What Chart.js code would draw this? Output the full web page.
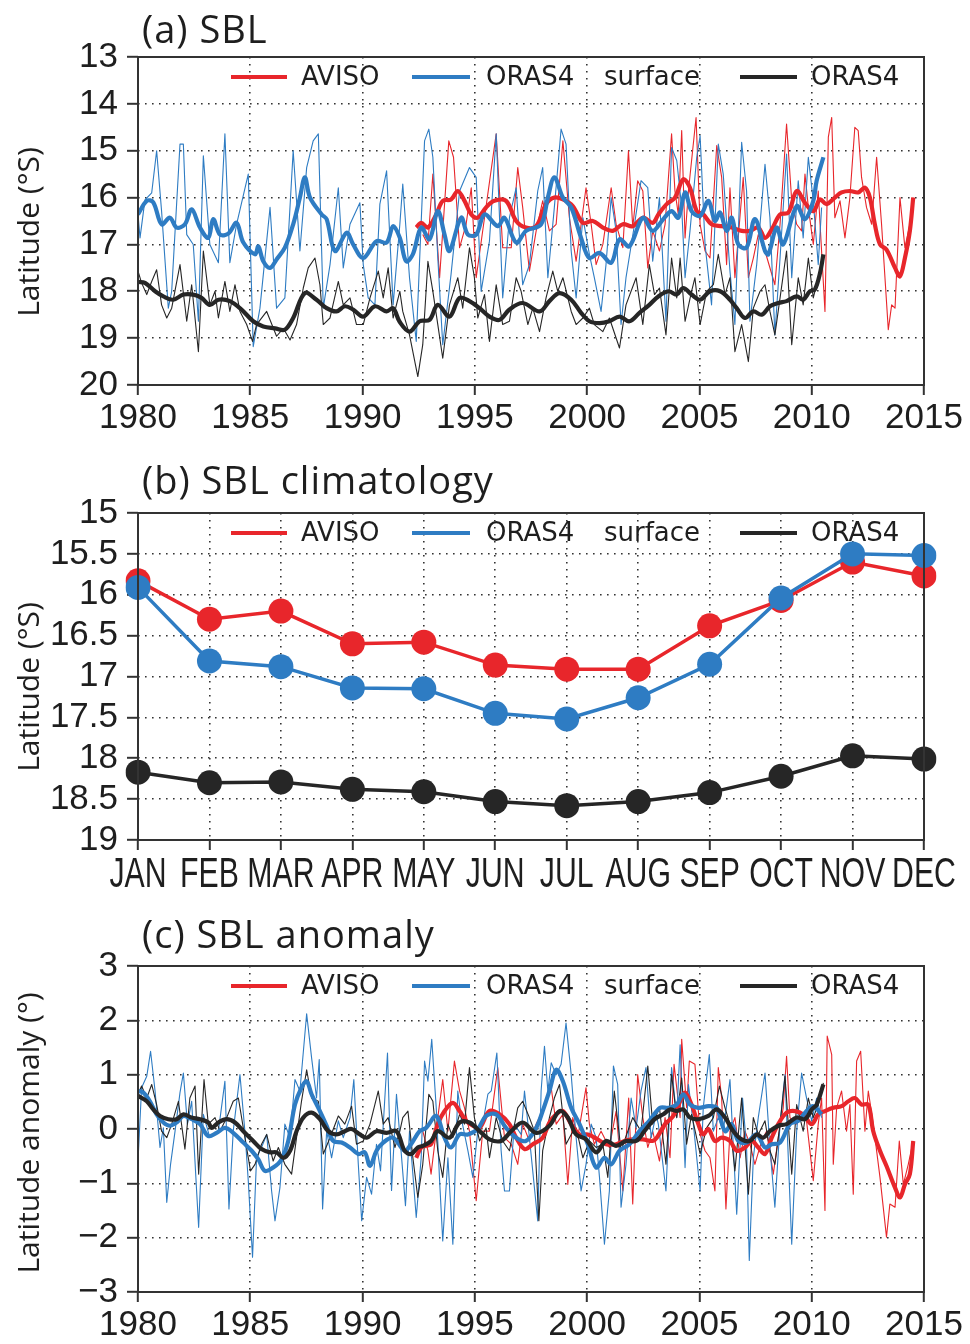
<!DOCTYPE html>
<html>
<head>
<meta charset="utf-8">
<script src="https://cdn.jsdelivr.net/npm/chart.js@4.4.1/dist/chart.umd.min.js"></script>
<style>
  html, body { margin: 0; padding: 0; background: #fff; }
  #wrap { position: relative; width: 970px; height: 1344px; }
  canvas { position: absolute; left: 0; }
</style>
</head>
<body>
<div id="wrap">
  <canvas id="sbl" width="970" height="450" style="top:0px"></canvas>
  <canvas id="clim" width="970" height="450" style="top:450px"></canvas>
  <canvas id="anom" width="970" height="444" style="top:900px"></canvas>
</div>
<script>
// ---- axis ticks ----
const yearTicks = [1980, 1985, 1990, 1995, 2000, 2005, 2010, 2015];
const latTicks = [13, 14, 15, 16, 17, 18, 19, 20];
const climTicks = [15, 15.5, 16, 16.5, 17, 17.5, 18, 18.5, 19];
const anomTicks = [-3, -2, -1, 0, 1, 2, 3];
const months = ['JAN', 'FEB', 'MAR', 'APR', 'MAY', 'JUN', 'JUL', 'AUG', 'SEP', 'OCT', 'NOV', 'DEC'];

// ---- (a) SBL latitude, [year, °S] ----
const avisoLat = [[1992.68,16.79],[1992.91,17.0],[1993.13,15.5],[1993.43,17.71],[1993.84,14.79],[1994.05,15.14],[1994.32,17.07],[1994.61,16.57],[1994.84,15.79],[1995.06,17.71],[1995.43,16.43],[1995.95,14.64],[1996.24,17.07],[1996.62,17.07],[1996.91,15.36],[1997.13,16.21],[1997.43,17.57],[1997.73,16.71],[1998.02,16.07],[1998.32,16.71],[1998.62,16.57],[1998.92,14.79],[1999.21,16.43],[1999.51,17.36],[1999.95,15.79],[2000.18,16.57],[2000.40,17.43],[2000.70,17.0],[2001.07,15.79],[2001.29,16.57],[2001.59,17.07],[2001.84,15.0],[2002.03,16.64],[2002.25,15.64],[2002.48,15.86],[2002.70,17.5],[2002.92,16.71],[2003.22,17.14],[2003.47,16.57],[2003.76,14.64],[2003.91,15.86],[2004.06,16.36],[2004.21,14.57],[2004.36,16.86],[2004.51,15.86],[2004.85,14.29],[2005.03,16.57],[2005.25,17.14],[2005.47,17.29],[2005.77,14.89],[2005.99,15.57],[2006.21,17.43],[2006.36,15.79],[2006.58,17.71],[2006.95,15.57],[2007.18,17.71],[2007.40,17.29],[2007.62,16.79],[2007.92,17.14],[2008.36,17.86],[2008.59,16.57],[2008.88,14.43],[2009.11,16.07],[2009.33,16.57],[2009.55,16.71],[2009.70,15.5],[2009.85,16.21],[2010.07,17.0],[2010.29,15.86],[2010.59,18.43],[2010.74,14.71],[2010.89,14.29],[2011.03,16.43],[2011.26,16.07],[2011.48,16.86],[2011.70,16.0],[2011.92,14.5],[2012.07,14.57],[2012.22,15.57],[2012.44,16.21],[2012.67,16.57],[2012.89,15.14],[2013.11,16.57],[2013.41,18.82],[2013.56,18.29],[2013.71,18.36],[2013.93,16.0],[2014.15,17.07],[2014.37,16.57],[2014.52,16.0]];
const avisoLatSmooth = [[1992.39,16.64],[1992.61,16.54],[1992.91,16.64],[1993.28,16.36],[1993.57,16.07],[1993.94,16.04],[1994.24,15.86],[1994.54,16.07],[1994.84,16.36],[1995.13,16.43],[1995.50,16.21],[1995.87,16.07],[1996.39,16.07],[1996.84,16.50],[1997.28,16.64],[1997.73,16.61],[1998.17,16.14],[1998.54,16.00],[1998.92,16.04],[1999.36,16.18],[1999.81,16.54],[2000.25,16.50],[2000.70,16.64],[2001.14,16.71],[2001.59,16.57],[2002.03,16.61],[2002.48,16.43],[2002.92,16.54],[2003.17,16.36],[2003.54,16.14],[2003.91,16.00],[2004.28,15.61],[2004.58,15.79],[2004.88,16.29],[2005.17,16.36],[2005.54,16.57],[2005.99,16.61],[2006.44,16.64],[2006.88,16.71],[2007.25,16.71],[2007.62,16.64],[2007.92,16.86],[2008.22,16.68],[2008.59,16.36],[2008.96,16.32],[2009.33,15.86],[2009.70,16.11],[2010.07,16.29],[2010.37,16.04],[2010.66,16.14],[2011.03,16.00],[2011.33,15.89],[2011.70,15.86],[2012.07,15.89],[2012.37,15.79],[2012.59,16.00],[2012.81,16.57],[2013.04,17.00],[2013.33,17.11],[2013.71,17.50],[2013.93,17.68],[2014.15,17.29],[2014.37,16.71],[2014.52,16.00]];
const surfLat = [[1980.00,16.36],[1980.09,16.86],[1980.31,16.05],[1980.61,15.9],[1980.83,15.0],[1981.05,16.29],[1981.35,18.36],[1981.50,18.0],[1981.87,14.86],[1982.02,14.86],[1982.17,16.79],[1982.46,17.0],[1982.69,18.64],[1982.91,15.11],[1983.20,17.0],[1983.58,17.39],[1983.87,14.64],[1984.09,17.39],[1984.39,16.57],[1984.91,15.5],[1985.13,19.18],[1985.43,18.36],[1985.88,16.21],[1986.17,18.36],[1986.54,18.14],[1986.91,15.0],[1987.21,17.14],[1987.51,15.36],[1987.80,14.79],[1988.03,14.64],[1988.25,18.36],[1988.55,17.43],[1988.92,15.79],[1989.14,17.5],[1989.44,16.57],[1989.88,16.11],[1990.03,17.43],[1990.25,18.14],[1990.55,18.29],[1990.77,16.14],[1991.07,15.43],[1991.36,18.29],[1991.66,16.57],[1991.79,15.71],[1992.09,17.71],[1992.39,19.07],[1992.76,14.79],[1992.95,14.54],[1993.13,15.14],[1993.35,17.29],[1993.57,19.14],[1993.94,17.64],[1994.32,15.86],[1994.76,15.36],[1995.06,15.57],[1995.28,18.0],[1995.65,16.93],[1995.95,14.64],[1996.24,18.14],[1996.54,16.43],[1996.84,15.79],[1997.13,17.86],[1997.43,17.43],[1997.80,15.86],[1998.02,15.36],[1998.25,17.71],[1998.54,16.21],[1998.84,14.54],[1999.06,14.86],[1999.29,17.14],[1999.51,18.14],[1999.81,16.43],[2000.10,17.21],[2000.32,17.71],[2000.62,18.43],[2000.84,17.43],[2001.07,16.0],[2001.29,16.71],[2001.51,18.71],[2001.73,17.71],[2002.11,16.57],[2002.40,15.64],[2002.70,15.79],[2002.92,17.36],[2003.22,16.0],[2003.51,18.64],[2003.76,14.93],[2003.99,15.21],[2004.21,16.21],[2004.36,17.71],[2004.58,16.71],[2004.88,15.14],[2005.03,14.68],[2005.25,17.0],[2005.54,18.29],[2005.84,14.86],[2006.06,15.5],[2006.36,17.57],[2006.58,18.71],[2006.88,14.82],[2007.10,15.86],[2007.25,18.64],[2007.55,17.43],[2007.92,15.29],[2008.14,16.43],[2008.36,18.93],[2008.59,17.29],[2008.88,15.07],[2009.11,17.71],[2009.40,15.64],[2009.62,16.86],[2009.85,15.14],[2010.07,16.07],[2010.29,17.43],[2010.44,16.21]];
const surfLatSmooth = [[1980.00,16.36],[1980.39,16.07],[1980.68,16.10],[1981.05,16.57],[1981.42,16.43],[1981.72,16.64],[1982.09,16.57],[1982.39,16.25],[1982.76,16.64],[1983.13,16.86],[1983.35,16.46],[1983.65,16.79],[1984.02,16.77],[1984.39,16.54],[1984.69,16.96],[1985.21,17.21],[1985.36,17.04],[1985.58,17.36],[1985.88,17.50],[1986.17,17.32],[1986.54,17.07],[1986.91,16.57],[1987.21,16.00],[1987.43,15.57],[1987.66,16.00],[1988.18,16.36],[1988.40,16.46],[1988.77,17.14],[1989.29,16.75],[1989.58,17.00],[1990.03,17.29],[1990.62,16.93],[1991.07,16.96],[1991.36,16.61],[1991.66,16.86],[1991.94,17.36],[1992.24,17.21],[1992.61,16.64],[1992.98,16.89],[1993.35,16.29],[1993.65,16.79],[1993.87,17.14],[1994.39,16.43],[1994.69,16.79],[1995.06,16.79],[1995.43,16.36],[1996.02,16.61],[1996.32,16.43],[1996.84,16.96],[1997.28,16.71],[1997.95,16.57],[1998.25,16.00],[1998.54,15.57],[1998.92,16.00],[1999.29,16.21],[1999.73,16.86],[2000.10,17.29],[2000.55,17.18],[2001.07,17.39],[2001.44,16.89],[2001.88,17.04],[2002.48,16.43],[2002.92,16.71],[2003.39,16.46],[2003.76,16.29],[2004.06,16.43],[2004.36,15.89],[2004.65,16.29],[2005.03,16.39],[2005.40,16.07],[2005.69,16.50],[2005.92,16.32],[2006.21,16.71],[2006.44,16.43],[2006.73,17.00],[2007.10,17.07],[2007.47,16.46],[2007.92,17.14],[2008.07,17.21],[2008.44,16.64],[2008.73,17.00],[2009.33,16.18],[2009.70,16.46],[2010.07,16.07],[2010.22,15.64],[2010.52,15.14]];
const oras4Lat = [[1980.00,17.57],[1980.16,17.82],[1980.39,18.07],[1980.61,17.79],[1980.83,17.54],[1981.05,18.29],[1981.28,18.57],[1981.50,18.36],[1981.87,17.43],[1982.17,18.64],[1982.39,17.86],[1982.69,19.29],[1982.91,17.14],[1983.20,18.29],[1983.43,18.0],[1983.58,18.57],[1983.87,17.79],[1984.09,18.43],[1984.32,17.86],[1984.54,18.43],[1984.84,18.71],[1985.10,19.07],[1985.28,18.71],[1985.73,18.43],[1986.17,18.96],[1986.47,18.79],[1986.77,19.04],[1987.06,18.71],[1987.36,17.93],[1987.58,17.5],[1987.88,17.29],[1988.10,17.86],[1988.25,18.71],[1988.55,18.57],[1988.92,17.79],[1989.14,18.29],[1989.44,18.14],[1989.73,18.71],[1990.03,18.71],[1990.33,18.14],[1990.70,17.57],[1990.92,18.14],[1991.14,17.5],[1991.36,18.57],[1991.66,18.0],[1991.79,18.43],[1992.09,18.93],[1992.46,19.82],[1992.68,19.14],[1992.91,17.36],[1993.13,18.0],[1993.35,18.71],[1993.57,19.43],[1993.87,18.29],[1994.24,17.71],[1994.46,18.36],[1994.76,17.07],[1994.98,17.71],[1995.13,18.57],[1995.43,18.07],[1995.65,19.07],[1995.95,17.86],[1996.24,18.71],[1996.54,18.64],[1996.84,17.71],[1997.06,18.0],[1997.36,18.71],[1997.58,18.36],[1997.88,18.86],[1998.17,18.14],[1998.47,17.57],[1998.69,18.0],[1998.92,17.71],[1999.29,18.43],[1999.51,18.71],[1999.81,18.57],[2000.10,18.36],[2000.32,18.71],[2000.70,18.86],[2000.99,18.57],[2001.44,19.21],[2001.73,18.29],[2002.18,17.71],[2002.48,18.71],[2002.77,17.43],[2003.00,18.07],[2003.22,17.93],[2003.51,18.93],[2003.76,17.29],[2003.99,18.14],[2004.14,17.29],[2004.36,18.64],[2004.65,18.0],[2004.80,17.71],[2005.03,18.71],[2005.32,18.0],[2005.62,17.86],[2005.84,17.21],[2006.14,18.07],[2006.36,17.71],[2006.58,19.29],[2006.88,18.71],[2007.18,19.5],[2007.40,18.36],[2007.70,18.0],[2007.92,17.86],[2008.14,18.43],[2008.36,18.93],[2008.59,18.14],[2008.88,17.14],[2009.11,19.14],[2009.40,17.71],[2009.62,18.29],[2009.85,17.29],[2010.07,18.14],[2010.29,17.71]];
const oras4LatSmooth = [[1980.00,17.80],[1980.31,17.82],[1980.76,18.00],[1981.13,18.11],[1981.57,18.18],[1982.02,18.07],[1982.46,18.07],[1982.83,18.14],[1983.20,18.29],[1983.58,18.18],[1984.09,18.21],[1984.61,18.39],[1985.13,18.64],[1985.58,18.75],[1986.10,18.79],[1986.54,18.82],[1986.91,18.57],[1987.43,18.04],[1987.95,18.18],[1988.40,18.36],[1988.84,18.43],[1989.21,18.32],[1989.58,18.39],[1990.03,18.54],[1990.55,18.32],[1991.07,18.43],[1991.36,18.36],[1991.65,18.65],[1992.09,18.86],[1992.54,18.64],[1992.98,18.61],[1993.35,18.29],[1993.87,18.54],[1994.32,18.14],[1994.76,18.21],[1995.21,18.36],[1995.65,18.54],[1996.10,18.61],[1996.54,18.39],[1997.13,18.25],[1997.88,18.43],[1998.32,18.21],[1998.77,18.04],[1999.29,18.18],[1999.73,18.46],[2000.10,18.64],[2000.55,18.68],[2000.99,18.64],[2001.44,18.54],[2001.88,18.64],[2002.33,18.46],[2002.77,18.29],[2003.17,18.11],[2003.62,18.00],[2003.99,18.07],[2004.28,17.93],[2004.65,18.07],[2005.03,18.18],[2005.47,18.00],[2005.92,18.00],[2006.36,18.18],[2006.66,18.36],[2007.03,18.57],[2007.40,18.43],[2007.77,18.50],[2008.14,18.32],[2008.51,18.25],[2008.88,18.21],[2009.33,18.11],[2009.62,18.18],[2009.92,18.00],[2010.14,17.96],[2010.37,17.61],[2010.52,17.21]];

// ---- (b) monthly climatology, °S ----
const avisoClim = [15.83, 16.30, 16.20, 16.60, 16.58, 16.86, 16.91, 16.91, 16.38, 16.07, 15.60, 15.77];
const surfClim = [15.91, 16.81, 16.88, 17.14, 17.15, 17.45, 17.52, 17.26, 16.85, 16.04, 15.50, 15.52];
const oras4Clim = [18.17, 18.30, 18.29, 18.38, 18.41, 18.53, 18.58, 18.53, 18.42, 18.22, 17.97, 18.01];

// ---- (c) anomaly, [year, degrees] ----
const avisoAnom = [[1992.68,-0.04],[1992.91,-0.40],[1993.05,-0.83],[1993.35,0.21],[1993.57,0.91],[1993.80,-0.04],[1994.09,1.25],[1994.32,0.70],[1994.54,0.39],[1994.76,-0.04],[1995.06,-1.32],[1995.35,-0.04],[1995.65,-0.04],[1996.02,1.13],[1996.32,-0.16],[1996.62,-0.28],[1996.91,-0.65],[1997.13,0.09],[1997.43,-0.22],[1997.73,0.09],[1998.02,0.33],[1998.40,0.76],[1998.62,0.09],[1998.92,0.27],[1999.14,-1.02],[1999.36,0.21],[1999.58,-0.16],[1999.95,0.76],[2000.10,0.09],[2000.32,-0.28],[2000.62,-0.04],[2000.99,-0.34],[2001.29,0.33],[2001.59,-1.14],[2001.85,0.57],[2002.03,-1.38],[2002.25,1.0],[2002.48,0.21],[2002.70,-0.34],[2002.92,-0.04],[2003.22,-0.59],[2003.47,0.21],[2003.69,-0.53],[2003.87,1.19],[2004.14,0.21],[2004.21,1.65],[2004.43,0.39],[2004.55,1.25],[2004.80,1.19],[2005.03,-0.10],[2005.25,-0.40],[2005.47,-0.53],[2005.69,-1.14],[2005.84,1.13],[2005.99,0.57],[2006.18,-1.47],[2006.36,-0.04],[2006.58,0.21],[2006.81,-0.53],[2007.03,-0.04],[2007.25,-0.28],[2007.47,-0.65],[2007.77,-0.22],[2007.99,-0.04],[2008.29,-0.83],[2008.51,-0.16],[2008.73,0.39],[2008.88,1.34],[2009.03,0.21],[2009.33,0.09],[2009.55,0.21],[2009.77,0.15],[2010.07,-0.95],[2010.29,0.09],[2010.44,0.57],[2010.59,-1.50],[2010.69,1.71],[2010.89,1.37],[2010.96,-0.65],[2011.11,0.39],[2011.33,0.70],[2011.55,-0.04],[2011.70,0.45],[2011.85,-1.20],[2012.00,1.25],[2012.18,1.43],[2012.37,-0.04],[2012.52,0.70],[2012.74,0.09],[2013.04,-0.89],[2013.33,-1.99],[2013.48,-1.38],[2013.71,-1.44],[2013.90,-0.22],[2014.08,-1.02],[2014.30,-0.65],[2014.52,-0.22]];
const avisoAnomSmooth = [[1992.39,-0.53],[1992.61,-0.34],[1992.83,-0.31],[1993.05,-0.28],[1993.35,0.09],[1993.65,0.33],[1994.02,0.48],[1994.32,0.33],[1994.61,0.15],[1994.91,0.06],[1995.21,0.02],[1995.65,0.33],[1996.10,0.27],[1996.54,0.09],[1996.84,-0.16],[1997.21,-0.37],[1997.58,-0.28],[1998.02,-0.16],[1998.32,0.12],[1998.62,0.27],[1998.92,0.33],[1999.29,0.09],[1999.66,-0.10],[2000.03,-0.10],[2000.47,-0.19],[2000.84,-0.28],[2001.29,-0.28],[2001.66,-0.22],[2002.03,-0.19],[2002.48,-0.19],[2002.92,-0.22],[2003.10,-0.16],[2003.47,0.09],[2003.84,0.24],[2004.14,0.51],[2004.36,0.67],[2004.65,0.45],[2004.95,0.09],[2005.17,-0.10],[2005.40,0.00],[2005.69,-0.22],[2005.99,-0.16],[2006.36,-0.22],[2006.66,-0.40],[2007.03,-0.34],[2007.33,-0.22],[2007.62,-0.34],[2007.92,-0.46],[2008.22,-0.16],[2008.51,0.09],[2008.88,0.30],[2009.25,0.33],[2009.62,0.27],[2010.00,0.09],[2010.29,0.27],[2010.59,0.33],[2010.96,0.39],[2011.33,0.42],[2011.63,0.51],[2011.92,0.57],[2012.22,0.45],[2012.52,0.45],[2012.74,-0.04],[2013.04,-0.40],[2013.33,-0.68],[2013.71,-1.08],[2013.93,-1.26],[2014.15,-1.02],[2014.37,-0.83],[2014.52,-0.22]];
const surfAnom = [[1980.00,-0.59],[1980.16,0.76],[1980.39,0.97],[1980.56,1.43],[1980.76,0.70],[1980.98,-0.34],[1981.13,0.02],[1981.28,-1.35],[1981.45,-0.65],[1981.65,-0.04],[1981.87,0.67],[1982.02,1.03],[1982.20,0.09],[1982.39,0.51],[1982.70,-1.81],[1982.91,0.27],[1983.20,-0.16],[1983.58,-0.04],[1983.87,0.88],[1984.05,-1.47],[1984.24,-0.04],[1984.54,1.0],[1984.76,-0.04],[1984.91,-0.95],[1985.10,-2.36],[1985.28,-0.53],[1985.50,-0.34],[1985.73,-0.10],[1985.95,-1.14],[1986.10,-1.69],[1986.32,-1.08],[1986.54,0.09],[1986.77,-0.16],[1986.99,0.91],[1987.21,0.70],[1987.51,2.12],[1987.73,1.31],[1987.95,0.57],[1988.07,1.28],[1988.22,-1.47],[1988.40,-0.04],[1988.62,-0.53],[1988.92,0.15],[1989.14,-0.16],[1989.44,0.21],[1989.61,0.91],[1989.81,-0.65],[1989.96,-1.69],[1990.18,-0.89],[1990.40,-1.20],[1990.62,-0.28],[1990.80,-0.77],[1991.11,1.40],[1991.29,-1.13],[1991.51,0.64],[1991.91,-1.41],[1992.09,-0.04],[1992.39,-1.63],[1992.61,-0.53],[1992.76,1.25],[1992.91,0.88],[1993.08,1.65],[1993.28,0.39],[1993.43,-0.95],[1993.57,-2.06],[1993.80,-0.53],[1994.02,-2.12],[1994.24,0.70],[1994.39,0.21],[1994.69,-0.40],[1994.91,-0.89],[1995.13,-0.04],[1995.35,0.09],[1995.58,0.64],[1995.73,0.70],[1995.98,1.40],[1996.17,-0.40],[1996.32,-1.14],[1996.54,-1.14],[1996.76,0.09],[1997.06,-0.10],[1997.21,0.70],[1997.43,-0.16],[1997.80,-1.69],[1997.95,0.70],[1998.10,1.52],[1998.25,0.70],[1998.40,1.22],[1998.62,1.0],[1998.84,1.19],[1999.06,1.95],[1999.29,1.0],[1999.51,-0.16],[1999.73,-1.14],[1999.95,-0.65],[2000.18,0.09],[2000.40,-0.16],[2000.55,-0.89],[2000.77,-2.12],[2000.99,-1.14],[2001.17,1.16],[2001.36,0.82],[2001.51,-1.44],[2001.73,-0.65],[2001.96,0.57],[2002.18,0.02],[2002.40,0.70],[2002.62,1.13],[2002.85,-0.16],[2003.07,0.27],[2003.17,0.09],[2003.51,-1.14],[2003.76,1.13],[2003.99,0.21],[2004.14,1.55],[2004.36,-0.71],[2004.51,0.82],[2004.73,0.09],[2005.03,-1.14],[2005.17,0.39],[2005.44,1.37],[2005.62,-0.04],[2005.84,0.21],[2006.06,-0.04],[2006.36,0.91],[2006.66,-1.57],[2006.92,0.57],[2007.10,-0.34],[2007.22,-2.42],[2007.40,-0.53],[2007.62,0.21],[2007.92,1.03],[2008.14,-0.34],[2008.36,-1.44],[2008.59,0.09],[2008.81,1.0],[2009.11,-2.12],[2009.33,-0.04],[2009.55,1.03],[2009.77,0.57],[2010.00,0.15],[2010.22,0.57],[2010.44,0.21]];
const surfAnomSmooth = [[1980.00,0.70],[1980.24,0.67],[1980.53,0.51],[1980.83,0.27],[1981.13,0.12],[1981.42,0.06],[1981.72,0.12],[1982.02,0.24],[1982.39,0.18],[1982.76,0.09],[1983.13,-0.13],[1983.50,-0.07],[1983.87,0.02],[1984.24,-0.07],[1984.69,-0.25],[1985.06,-0.40],[1985.36,-0.56],[1985.65,-0.77],[1986.02,-0.71],[1986.39,-0.56],[1986.69,-0.22],[1986.99,0.45],[1987.28,0.76],[1987.51,0.88],[1987.73,0.64],[1988.10,0.33],[1988.40,0.06],[1988.69,-0.22],[1989.07,-0.25],[1989.44,-0.34],[1989.81,-0.46],[1990.10,-0.43],[1990.33,-0.68],[1990.62,-0.40],[1990.92,-0.25],[1991.36,-0.16],[1991.87,-0.40],[1992.16,-0.28],[1992.54,-0.04],[1992.83,0.02],[1993.28,0.24],[1993.65,-0.16],[1993.94,-0.34],[1994.32,-0.10],[1994.69,-0.10],[1995.13,0.00],[1995.50,0.24],[1995.95,0.27],[1996.39,0.02],[1996.84,-0.16],[1997.28,-0.22],[1997.73,0.02],[1998.02,0.33],[1998.32,0.70],[1998.62,1.09],[1998.92,0.88],[1999.29,0.39],[1999.66,0.09],[2000.03,-0.28],[2000.40,-0.71],[2000.77,-0.53],[2001.07,-0.65],[2001.44,-0.40],[2001.88,-0.28],[2002.33,-0.04],[2002.77,0.15],[2003.25,0.39],[2003.62,0.39],[2003.99,0.45],[2004.28,0.64],[2004.58,0.45],[2004.95,0.39],[2005.40,0.42],[2005.77,0.39],[2006.14,-0.04],[2006.44,0.09],[2006.73,-0.22],[2007.10,-0.25],[2007.55,-0.10],[2007.92,-0.34],[2008.22,-0.28],[2008.59,-0.25],[2009.03,0.09],[2009.40,0.15],[2009.77,0.33],[2010.07,0.42],[2010.44,0.27]];
const oras4Anom = [[1980.00,0.64],[1980.16,0.79],[1980.39,0.57],[1980.61,0.82],[1980.83,0.45],[1981.05,-0.04],[1981.28,-0.16],[1981.50,0.09],[1981.80,0.51],[1982.09,-0.37],[1982.31,0.57],[1982.54,0.79],[1982.70,-0.83],[1982.94,0.91],[1983.13,0.09],[1983.43,0.21],[1983.65,-0.04],[1983.95,0.21],[1984.24,0.51],[1984.47,0.57],[1984.76,-0.16],[1985.01,-0.77],[1985.21,-0.65],[1985.50,-0.28],[1985.73,-0.10],[1986.02,-0.59],[1986.25,-0.34],[1986.54,-0.65],[1986.84,-0.83],[1987.06,-0.16],[1987.28,0.51],[1987.51,1.09],[1987.73,0.57],[1988.03,0.51],[1988.25,-0.46],[1988.55,-0.16],[1988.92,0.24],[1989.21,0.09],[1989.51,0.42],[1989.73,-0.28],[1990.03,-0.22],[1990.33,0.09],[1990.70,0.70],[1990.92,0.09],[1991.14,0.21],[1991.44,-0.34],[1991.66,-0.04],[1991.79,0.21],[1992.02,0.33],[1992.24,-0.53],[1992.46,-1.26],[1992.68,-0.65],[1992.95,0.64],[1993.13,0.51],[1993.35,-0.40],[1993.57,-0.89],[1993.80,0.09],[1994.02,-0.16],[1994.32,0.27],[1994.54,0.09],[1994.76,1.13],[1994.98,0.21],[1995.21,-0.22],[1995.50,0.02],[1995.65,-0.53],[1995.95,0.21],[1996.24,-0.22],[1996.54,-0.40],[1996.91,0.39],[1997.13,0.51],[1997.43,0.21],[1997.65,-0.04],[1997.85,-1.69],[1998.02,-0.40],[1998.32,0.21],[1998.54,0.57],[1998.77,0.82],[1999.06,-0.28],[1999.29,-0.10],[1999.51,0.02],[1999.81,-0.53],[2000.10,-0.22],[2000.40,-0.34],[2000.70,-0.28],[2000.92,-0.89],[2001.21,0.70],[2001.51,-0.40],[2001.81,-0.04],[2002.03,0.21],[2002.40,-0.04],[2002.70,1.16],[2002.92,0.09],[2003.22,0.39],[2003.51,-0.65],[2003.76,1.0],[2003.99,0.21],[2004.21,0.94],[2004.43,-0.28],[2004.65,0.27],[2005.03,-0.46],[2005.32,0.02],[2005.62,0.21],[2005.89,0.79],[2006.14,0.39],[2006.36,0.09],[2006.58,-0.77],[2006.88,0.57],[2007.18,-1.20],[2007.40,0.21],[2007.62,-0.10],[2007.92,0.15],[2008.14,-0.40],[2008.36,-0.65],[2008.59,0.09],[2008.81,0.97],[2009.11,-0.83],[2009.33,0.45],[2009.62,-0.04],[2009.85,0.57],[2010.07,0.21],[2010.29,0.45],[2010.52,0.85]];
const oras4AnomSmooth = [[1980.00,0.61],[1980.39,0.51],[1980.68,0.36],[1980.98,0.24],[1981.35,0.18],[1981.72,0.18],[1982.02,0.27],[1982.39,0.21],[1982.76,0.18],[1983.13,0.12],[1983.28,0.02],[1983.58,0.12],[1983.95,0.18],[1984.32,0.12],[1984.69,-0.04],[1985.13,-0.22],[1985.50,-0.37],[1985.88,-0.43],[1986.17,-0.43],[1986.47,-0.53],[1986.77,-0.40],[1987.06,-0.04],[1987.36,0.21],[1987.73,0.30],[1988.10,0.18],[1988.47,-0.04],[1988.84,-0.10],[1989.21,-0.04],[1989.51,0.00],[1989.88,-0.10],[1990.18,-0.16],[1990.62,-0.04],[1991.07,-0.07],[1991.51,-0.04],[1991.87,-0.40],[1992.16,-0.46],[1992.46,-0.34],[1992.68,-0.31],[1993.05,-0.22],[1993.35,-0.04],[1993.87,-0.16],[1994.32,0.12],[1994.76,0.12],[1995.21,-0.04],[1995.65,-0.19],[1996.17,-0.22],[1996.62,-0.04],[1997.13,0.12],[1997.73,-0.07],[1998.32,0.06],[1998.77,0.33],[1999.14,0.21],[1999.51,-0.10],[1999.95,-0.19],[2000.40,-0.43],[2000.84,-0.22],[2001.29,-0.31],[2001.73,-0.22],[2002.18,-0.22],[2002.55,-0.04],[2002.92,0.15],[2003.10,0.21],[2003.39,0.27],[2003.69,0.36],[2003.99,0.33],[2004.28,0.36],[2004.58,0.21],[2004.95,0.18],[2005.40,0.24],[2005.77,0.36],[2006.14,0.21],[2006.51,-0.04],[2006.88,-0.19],[2007.25,-0.22],[2007.55,-0.10],[2007.84,-0.16],[2008.14,-0.04],[2008.51,0.06],[2008.88,0.09],[2009.33,0.21],[2009.70,0.18],[2010.00,0.36],[2010.22,0.45],[2010.52,0.82]];

// ---- styling ----
const RED = '#e8262b';
const BLUE = '#2e7cc3';
const BLACK = '#262626';
const INK = '#1e1e1e';
const tickFont = { family: '"Liberation Sans", Arial, sans-serif', size: 35 };

const legendEntries = [
  { color: RED, x0: 93, x1: 149, texts: [['AVISO', 163]] },
  { color: BLUE, x0: 274, x1: 332, texts: [['ORAS4', 348], ['surface', 466]] },
  { color: BLACK, x0: 602, x1: 659, texts: [['ORAS4', 673]] }
];

// frame, panel title, rotated axis title, the in-plot legend and
// (for the month axis) narrow category labels
const panelDecor = {
  id: 'panelDecor',
  afterDraw(chart, args, opts) {
    const { ctx, chartArea: a } = chart;
    ctx.save();
    ctx.strokeStyle = '#333';
    ctx.lineWidth = 2;
    ctx.strokeRect(a.left, a.top, a.right - a.left, a.bottom - a.top);

    ctx.fillStyle = INK;
    ctx.textAlign = 'left';
    ctx.textBaseline = 'alphabetic';
    ctx.font = '38px "Open Sans", "Noto Sans", sans-serif';
    ctx.letterSpacing = '1px';
    ctx.fillText(opts.title, a.left + 4, opts.titleY);
    ctx.letterSpacing = '0px';

    ctx.save();
    ctx.translate(30, opts.yTitleY);
    ctx.rotate(-Math.PI / 2);
    ctx.font = '30px "Open Sans", "Noto Sans", sans-serif';
    ctx.textAlign = 'center';
    ctx.textBaseline = 'middle';
    ctx.fillText(opts.yTitle, 0, 0);
    ctx.restore();

    if (opts.narrowLabels) {
      const sx = chart.scales.x;
      ctx.font = '42px "Liberation Sans", Arial, sans-serif';
      ctx.textAlign = 'center';
      ctx.textBaseline = 'alphabetic';
      sx.ticks.forEach((t, i) => {
        ctx.save();
        ctx.translate(sx.getPixelForTick(i), a.bottom + 47);
        ctx.scale(0.72, 1);
        ctx.fillText(sx.getLabelForValue(t.value), 0, 0);
        ctx.restore();
      });
    }

    const ly = a.top + 20;
    ctx.font = '26px "DejaVu Sans", sans-serif';
    ctx.textAlign = 'left';
    ctx.textBaseline = 'middle';
    ctx.lineWidth = 4;
    legendEntries.forEach(e => {
      ctx.strokeStyle = e.color;
      ctx.beginPath();
      ctx.moveTo(a.left + e.x0, ly);
      ctx.lineTo(a.left + e.x1, ly);
      ctx.stroke();
      e.texts.forEach(([t, x]) => ctx.fillText(t, a.left + x, ly + 1));
    });
    ctx.restore();
  }
};

const gridOpts = { color: '#333', lineWidth: 1.6, tickLength: 10, tickColor: '#333', tickWidth: 2 };
const borderOpts = { display: false, dash: [1.6, 5.4] };

function line(points, color, width, order) {
  return {
    data: points.map(([x, y]) => ({ x, y })),
    borderColor: color,
    borderWidth: width,
    pointRadius: 0,
    tension: width > 2 ? 0.35 : 0,
    borderJoinStyle: 'round',
    fill: false,
    order
  };
}

function yearAxis(height) {
  return {
    type: 'linear', min: 1980, max: 2015,
    afterBuildTicks: s => { s.ticks = yearTicks.map(v => ({ value: v })); },
    afterFit: s => { s.height = height; },
    ticks: { callback: v => String(v), font: tickFont, color: INK, padding: 2, maxRotation: 0, autoSkip: false },
    grid: gridOpts, border: borderOpts
  };
}

function valueAxis(min, max, values, reverse, fmt) {
  return {
    type: 'linear', min, max, reverse,
    afterBuildTicks: s => { s.ticks = values.map(v => ({ value: v })); },
    afterFit: s => { s.width = 138; },
    ticks: { callback: fmt, font: tickFont, color: INK, padding: 9, autoSkip: false },
    grid: Object.assign({}, gridOpts, { tickLength: 11 }), border: borderOpts
  };
}

function baseOptions(padding, decor) {
  return {
    responsive: false, animation: false, devicePixelRatio: 1, events: [],
    layout: { padding },
    plugins: { legend: { display: false }, tooltip: { enabled: false }, panelDecor: decor }
  };
}

// (a) SBL
new Chart(document.getElementById('sbl'), {
  type: 'line',
  data: {
    datasets: [
      line(avisoLat, RED, 1.1, 6),
      line(surfLat, BLUE, 1.1, 5),
      line(oras4Lat, BLACK, 1.1, 4),
      line(avisoLatSmooth, RED, 4.2, 3),
      line(surfLatSmooth, BLUE, 4.2, 2),
      line(oras4LatSmooth, BLACK, 4.2, 1)
    ]
  },
  options: Object.assign(baseOptions({ top: 57, right: 46, bottom: 10, left: 0 },
    { title: '(a) SBL', titleY: 43, yTitle: 'Latitude (°S)', yTitleY: 232 }), {
    scales: {
      x: yearAxis(55),
      y: valueAxis(13, 20, latTicks, true, v => String(v))
    }
  }),
  plugins: [panelDecor]
});

// (b) SBL climatology
function climLine(values, color, order) {
  return {
    data: values, borderColor: color, backgroundColor: color,
    borderWidth: 3.5, pointRadius: 12.5, pointBorderWidth: 0,
    pointBackgroundColor: color, tension: 0, fill: false, order
  };
}

new Chart(document.getElementById('clim'), {
  type: 'line',
  data: {
    labels: months,
    datasets: [
      climLine(avisoClim, RED, 3),
      climLine(surfClim, BLUE, 2),
      climLine(oras4Clim, BLACK, 1)
    ]
  },
  options: Object.assign(baseOptions({ top: 63, right: 46, bottom: 5, left: 0 },
    { title: '(b) SBL climatology', titleY: 44, yTitle: 'Latitude (°S)', yTitleY: 237, narrowLabels: true }), {
    scales: {
      x: {
        type: 'category', offset: false,
        afterFit: s => { s.height = 55; },
        ticks: { display: false, autoSkip: false },
        grid: gridOpts, border: borderOpts
      },
      y: valueAxis(15, 19, climTicks, true, v => String(v))
    }
  }),
  plugins: [panelDecor]
});

// (c) SBL anomaly
new Chart(document.getElementById('anom'), {
  type: 'line',
  data: {
    datasets: [
      line(avisoAnom, RED, 1.1, 6),
      line(surfAnom, BLUE, 1.1, 5),
      line(oras4Anom, BLACK, 1.1, 4),
      line(avisoAnomSmooth, RED, 4.2, 3),
      line(surfAnomSmooth, BLUE, 4.2, 2),
      line(oras4AnomSmooth, BLACK, 4.2, 1)
    ]
  },
  options: Object.assign(baseOptions({ top: 66, right: 46, bottom: 0, left: 0 },
    { title: '(c) SBL anomaly', titleY: 48, yTitle: 'Latitude anomaly (°)', yTitleY: 233 }), {
    scales: {
      x: yearAxis(52),
      y: valueAxis(-3, 3, anomTicks, false, v => String(v).replace('-', '\u2212'))
    }
  }),
  plugins: [panelDecor]
});
</script>
</body>
</html>
